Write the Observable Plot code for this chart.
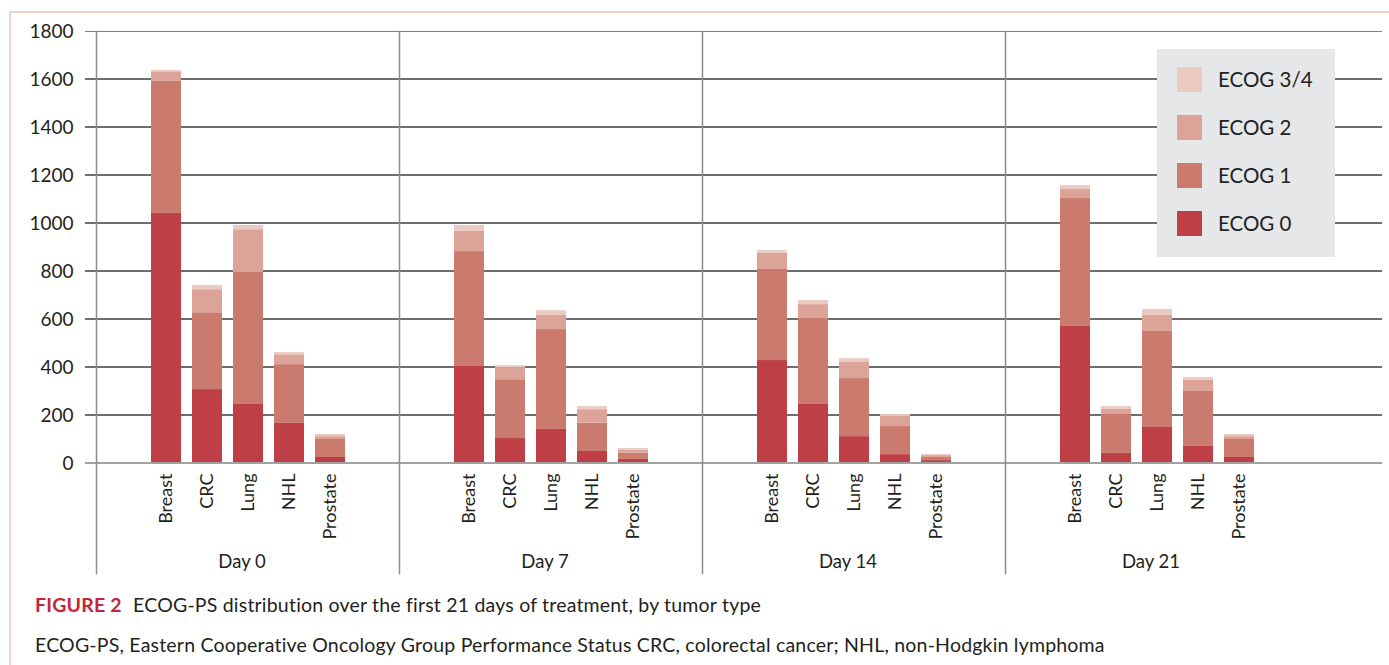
<!DOCTYPE html>
<html>
<head>
<meta charset="utf-8">
<script src="https://cdn.jsdelivr.net/npm/d3@7"></script>
<script src="https://cdn.jsdelivr.net/npm/@observablehq/plot@0.6"></script>
<style>
  html, body { margin: 0; padding: 0; background: #fff; }
  body { width: 1389px; height: 665px; position: relative; overflow: hidden; font-family: Lato, "Noto Sans", sans-serif; color: #231f20; }
  #border { position: absolute; left: 9px; top: 11px; width: 1500px; height: 800px; border-top: 2px solid #f2d3cb; border-left: 2px solid #f2d3cb; }
  #chart { position: absolute; left: 0; top: 0; }
  #legend { position: absolute; left: 1157px; top: 49px; width: 178px; height: 208px; background: #e6e7e8; }
  .lg-row { position: absolute; left: 20px; height: 26px; display: flex; align-items: center; }
  .lg-sw { width: 25px; height: 25px; }
  .lg-tx { margin-left: 16px; font-size: 20.5px; line-height: 26px; color: #231f20; }
  .cap { position: absolute; left: 35px; font-size: 19.5px; letter-spacing: 0.2px; line-height: 26px; white-space: nowrap; }
  .fig { color: #c4253a; font-weight: bold; margin-right: 6px; }
</style>
</head>
<body>
<div id="border"></div>
<div id="chart"></div>
<div id="legend"></div>
<div class="cap" style="top:592px"><span class="fig">FIGURE 2</span> ECOG-PS distribution over the first 21 days of treatment, by tumor type</div>
<div class="cap" style="top:632px">ECOG-PS, Eastern Cooperative Oncology Group Performance Status CRC, colorectal cancer; NHL, non-Hodgkin lymphoma</div>
<script>
// ---- data ----
const days = ["Day 0", "Day 7", "Day 14", "Day 21"];
const tumors = ["Breast", "CRC", "Lung", "NHL", "Prostate"];
const levels = ["ECOG 0", "ECOG 1", "ECOG 2", "ECOG 3/4"];
const levelColors = ["#be4046", "#cb7b6e", "#dca498", "#ebcac2"];
const yTicks = [0, 200, 400, 600, 800, 1000, 1200, 1400, 1600, 1800];
const gridTicks = [200, 400, 600, 800, 1000, 1200, 1400, 1600];
// values ordered: Day 0 (Breast, CRC, Lung, NHL, Prostate), Day 7 (...), Day 14 (...), Day 21 (...)
const ecog0 = [1042, 308, 246, 167, 25,   404, 104, 142, 50, 17,   429, 246, 112, 37, 12,   571, 42, 150, 71, 25];
const ecog1 = [550, 320, 550, 245, 78,    479, 245, 416, 118, 26,  382, 358, 242, 117, 13,  533, 162, 400, 229, 78];
const ecog2 = [40, 96, 178, 41, 9,        84, 50, 59, 56, 11,      65, 58, 67, 42, 8,       40, 21, 67, 46, 9];
const ecog34 = [5, 18, 18, 9, 9,          25, 9, 20, 13, 8,        11, 17, 16, 8, 4,        14, 12, 25, 12, 9];

const series = [ecog0, ecog1, ecog2, ecog34];
const rows = [];
days.forEach((day, di) => {
  tumors.forEach((tumor, ti) => {
    levels.forEach((level, li) => {
      rows.push({day, tumor, level, value: series[li][di * tumors.length + ti]});
    });
  });
});

const font = "Lato, 'Noto Sans', sans-serif";

const chart = Plot.plot({
  width: 1389,
  height: 590,
  marginLeft: 96,
  marginRight: 81,
  marginTop: 31,
  marginBottom: 127,
  style: {fontFamily: font, fontSize: "18px", color: "#231f20", background: "transparent"},
  fx: {domain: days, padding: 0, axis: null},
  x: {domain: tumors, paddingInner: 0.279, paddingOuter: 1.28, align: 0.5, axis: null},
  y: {domain: [0, 1800], axis: null},
  color: {domain: levels, range: levelColors},
  marks: [
    Plot.ruleY(gridTicks, {stroke: "#6d6e71", strokeWidth: 2, dy: -0.5, insetLeft: -11, insetRight: -74}),
    Plot.ruleY([1800], {stroke: "#808080", strokeWidth: 1, insetLeft: -11, insetRight: -74}),
    Plot.barY(rows, {fx: "day", x: "tumor", y: "value", fill: "level"}),
    Plot.ruleY([0], {stroke: "#a2a2a2", strokeWidth: 2, dy: -0.5, insetLeft: -11, insetRight: -74}),
    Plot.frame({anchor: "left", stroke: "#8c8c8c", strokeWidth: 1.5, insetBottom: -110}),
    Plot.axisY({ticks: yTicks, tickSize: 0, tickPadding: 23, fontSize: 19, label: null, tickFormat: d => String(d)}),
    Plot.axisX({tickRotate: -90, tickSize: 0, tickPadding: 10, fontSize: 18, label: null}),
    Plot.text(days, {fx: d => d, text: d => d, frameAnchor: "bottom", dy: 104, dx: -6, fontSize: 18.5, fill: "#231f20"})
  ]
});
document.getElementById("chart").appendChild(chart);

// legend built from the same level/color arrays
const legend = document.getElementById("legend");
const rowTops = [17, 65, 113, 161];
levels.slice().reverse().forEach((lv, i) => {
  const idx = levels.indexOf(lv);
  const r = document.createElement("div");
  r.className = "lg-row";
  r.style.top = rowTops[i] + "px";
  r.innerHTML = `<div class="lg-sw" style="background:${levelColors[idx]}"></div><div class="lg-tx">${lv}</div>`;
  legend.appendChild(r);
});
</script>
</body>
</html>
